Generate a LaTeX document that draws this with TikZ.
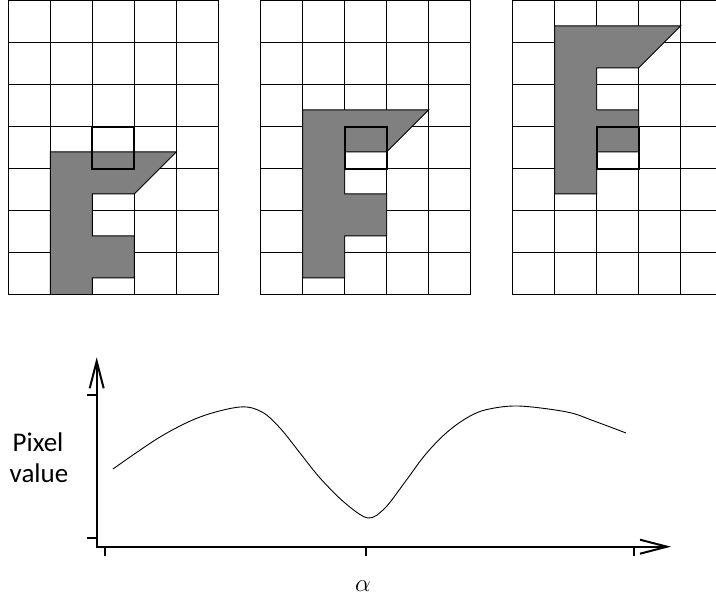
\documentclass[tikz,border=0pt]{standalone}
\usepackage{fontspec}
\setmainfont{Carlito}
\usetikzlibrary{arrows.meta}
\definecolor{fgray}{RGB}{128,128,128}
\begin{document}
\begin{tikzpicture}[x=1pt,y=-1pt,
  gridline/.style={line width=0.9pt,black},
  fshape/.style={fill=fgray,draw=black,line width=0.9pt},
  hl/.style={line width=2pt,black},
  axis/.style={line width=2pt,black,-{Straight Barb[length=27pt,width=14pt]}},
  tick/.style={line width=2pt,black},
  curve/.style={line width=0.9pt,black},
  lbl/.style={font=\fontsize{27}{32}\selectfont,inner sep=0pt,anchor=base}]
\useasboundingbox (0,0) rectangle (716,601);
\clip (0,0) rectangle (716,601);
% grids
\foreach \gx/\fr in {8.3/3,260.7/2,512.7/0}{
  \begin{scope}[shift={(\gx,0.7)}]
    \foreach \i in {1,...,4} \draw[gridline] (\i*42,0) -- (\i*42,294);
    \foreach \j in {1,...,6} \draw[gridline] (0,\j*42) -- (210,\j*42);
    \begin{scope}
      \clip (0,0) rectangle (210,294);
      \filldraw[fshape] (42,\fr*42+25.2) -- ++(126,0) -- ++(-42,42) -- ++(-42,0)
        -- ++(0,42) -- ++(42,0) -- ++(0,42) -- ++(-42,0) -- ++(0,42) -- ++(-42,0) -- cycle;
    \end{scope}
    \draw[gridline] (0,0) rectangle (210,294);
    \draw[hl] (84,126) rectangle (126,168);
  \end{scope}
}
% axes
\coordinate (ybot) at (96.7,547.7);
\coordinate (xbeg) at (95.7,546.7);
\coordinate (ytop) at (96.7,357.3);
\coordinate (xend) at (671,546.7);
\draw[axis] (ybot) -- (ytop);
\draw[axis] (xbeg) -- (xend);
\draw[tick] (87.3,395) -- (96.7,395);
\draw[tick] (87.3,538.3) -- (96.7,538.3);
\foreach \t in {105,365.7,634.3} \draw[tick] (\t,546.7) -- (\t,556);
% curve
\draw[curve] plot[smooth,tension=0.55] coordinates {
 (113,469) (160,437) (200,417) (240,407) (262,412) (280,428) (300,453)
 (320,478) (345,503) (368,518) (385,508) (405,482) (425,455) (445,434)
 (465,419) (485,410) (518,406) (567,412) (594,421) (626,433)};
% labels
\node[lbl] (pix) at (38,451.7) {Pixel};
\node[lbl] (val) at (39,483) {value};
\node[lbl,font=\fontsize{25}{30}\selectfont] (alpha) at (363,592) {$\alpha$};
\end{tikzpicture}
\end{document}
